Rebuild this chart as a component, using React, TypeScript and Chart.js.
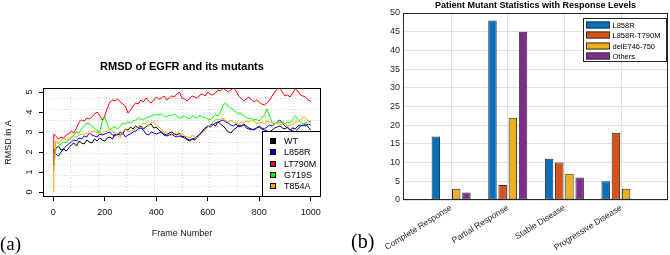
import React, { useEffect, useRef } from "react";
import { Chart, registerables } from "chart.js";

Chart.register(...registerables);

// ---------- Panel (a): RMSD of EGFR and its mutants ----------
const FRAMES = [
  0, 2, 10, 20, 30, 40, 50, 60, 70, 80, 90, 100,
  110, 120, 130, 140, 150, 160, 170, 180, 190, 200,
  210, 220, 230, 240, 250, 260, 270, 280, 290, 300,
  310, 320, 330, 340, 350, 360, 370, 380, 390, 400,
  410, 420, 430, 440, 450, 460, 470, 480, 490, 500,
  510, 520, 530, 540, 550, 560, 570, 580, 590, 600,
  610, 620, 630, 640, 650, 660, 670, 680, 690, 700,
  710, 720, 730, 740, 750, 760, 770, 780, 790, 800,
  810, 820, 830, 840, 850, 860, 870, 880, 890, 900,
  910, 920, 930, 940, 950, 960, 970, 980, 990, 1000,
];

const WT = [
  2.0, 2.05,
  2.2, 2.3, 2.1, 2.15, 2.05, 2.2, 2.35, 2.45, 2.3, 2.55,
  2.45, 2.4, 2.6, 2.5, 2.45, 2.65, 2.55, 2.7, 2.6, 2.55,
  2.7, 2.75, 2.65, 2.9, 2.85, 3.0, 2.9, 3.15, 3.1, 3.25,
  3.15, 3.3, 3.2, 3.3, 3.15, 3.25, 3.35, 3.4, 3.2, 3.25,
  3.1, 3.0, 2.9, 2.85, 2.95, 3.0, 2.9, 2.85, 2.95, 2.75,
  2.8, 2.6, 2.55, 2.65, 2.6, 2.75, 2.9, 3.05, 3.2, 3.25,
  3.35, 3.4, 3.3, 3.5, 3.4, 3.3, 3.15, 3.0, 2.95, 3.1,
  3.2, 3.35, 3.3, 3.4, 3.3, 3.2, 3.15, 3.1, 3.2, 3.25,
  3.15, 3.1, 3.05, 3.0, 3.1, 3.2, 3.25, 3.3, 3.2, 3.15,
  3.25, 3.1, 3.2, 3.15, 3.3, 3.35, 3.3, 3.4, 3.25, 3.1,
];

const L858R = [
  2.0, 2.0,
  1.9, 1.8, 2.0, 2.15, 2.3, 2.4, 2.5, 2.6, 2.55, 2.7,
  2.65, 2.8, 2.75, 2.95, 2.85, 2.8, 2.75, 2.9, 2.85, 2.9,
  2.95, 3.0, 2.85, 2.8, 2.9, 2.85, 2.95, 2.75, 2.85, 2.9,
  3.0, 3.05, 3.15, 3.2, 3.1, 2.9, 2.85, 3.0, 2.95, 2.9,
  2.95, 3.0, 2.85, 2.8, 2.85, 2.9, 2.8, 2.75, 2.8, 2.75,
  2.7, 2.65, 2.6, 2.65, 2.7, 2.8, 2.9, 3.05, 3.2, 3.3,
  3.25, 3.35, 3.45, 3.5, 3.55, 3.6, 3.5, 3.45, 3.35, 3.3,
  3.4, 3.25, 3.3, 3.35, 3.2, 3.15, 3.1, 3.15, 3.2, 3.3,
  3.2, 3.15, 3.25, 3.35, 3.3, 3.4, 3.5, 3.6, 3.45, 3.3,
  3.2, 3.1, 3.05, 3.0, 3.15, 3.3, 3.35, 3.3, 3.4, 3.35,
];

const LT790M = [
  1.25, 2.9,
  2.8, 2.65, 2.75, 2.7, 2.85, 2.9, 3.05, 2.95, 3.2, 3.5,
  3.6, 3.55, 3.7, 3.65, 3.75, 3.9, 4.0, 3.85, 3.6, 3.8,
  4.2, 4.5, 4.6, 4.55, 4.65, 4.5, 4.4, 4.3, 3.95, 4.1,
  4.3, 4.45, 4.4, 4.6, 4.5, 4.7, 4.55, 4.45, 4.6, 4.75,
  4.65, 4.7, 4.8, 4.6, 4.7, 4.8, 4.75, 4.9, 5.0, 4.7,
  4.65, 4.55, 4.7, 4.8, 4.75, 4.7, 4.85, 4.9, 4.8, 5.0,
  4.9, 4.85, 4.95, 5.1, 5.05, 5.2, 5.1, 5.0, 5.1, 5.2,
  5.05, 4.8, 4.7, 4.55, 4.65, 4.75, 4.6, 4.5, 4.6, 4.5,
  4.4, 4.35, 4.45, 4.6, 4.8, 5.0, 5.15, 5.2, 5.0, 4.8,
  4.85, 4.75, 4.95, 5.15, 5.05, 4.85, 4.8, 4.75, 4.6, 4.55,
];

const G719S = [
  1.0, 1.3,
  2.15, 2.3, 2.4, 2.5, 2.45, 2.65, 2.7, 2.85, 3.0, 2.95,
  3.15, 3.3, 3.45, 3.4, 3.3, 3.2, 3.05, 3.0, 3.5, 3.75,
  3.4, 3.1, 3.2, 3.25, 3.15, 3.3, 3.45, 3.4, 3.5, 3.45,
  3.55, 3.6, 3.7, 3.65, 3.6, 3.7, 3.75, 3.8, 3.85, 3.9,
  3.85, 3.9, 3.8, 3.75, 3.85, 3.8, 3.9, 3.8, 3.7, 3.75,
  3.8, 3.7, 3.65, 3.8, 3.75, 3.7, 3.85, 3.75, 3.7, 3.65,
  3.6, 3.75, 3.85, 3.8, 4.0, 4.35, 4.45, 4.25, 4.2, 4.1,
  4.0, 3.9, 3.95, 3.8, 3.75, 3.65, 3.7, 3.6, 3.65, 3.55,
  3.7, 3.85, 4.15, 3.8, 3.5, 3.4, 3.5, 3.45, 3.55, 3.4,
  3.5, 3.45, 3.6, 3.8, 3.65, 3.5, 3.4, 3.45, 3.5, 3.55,
];

const T854A = [
  0, 1.0,
  2.55, 2.4, 2.6, 2.7, 2.6, 2.65, 2.75, 2.8, 2.75, 2.85,
  2.9, 2.85, 2.95, 2.9, 3.0, 3.05, 2.95, 3.0, 2.9, 3.0,
  3.05, 3.15, 3.0, 2.95, 2.8, 2.7, 3.0, 3.15, 3.05, 3.0,
  3.1, 3.15, 3.3, 3.35, 3.45, 3.4, 3.3, 3.45, 3.5, 3.35,
  3.25, 3.15, 3.0, 2.95, 2.85, 2.8, 2.9, 2.95, 2.85, 2.9,
  2.8, 2.75, 2.7, 2.85, 2.75, 2.7, 2.85, 2.95, 3.1, 3.25,
  3.35, 3.5, 3.6, 3.65, 3.6, 3.7, 3.55, 3.5, 3.6, 3.5,
  3.45, 3.4, 3.5, 3.45, 3.55, 3.5, 3.6, 3.55, 3.4, 3.45,
  3.5, 3.4, 3.55, 3.5, 3.45, 3.4, 3.45, 3.35, 3.4, 3.45,
  3.3, 3.35, 3.4, 3.5, 3.55, 3.6, 3.75, 3.7, 3.55, 3.45,
];

const SERIES_NAMES = ["WT", "L858R", "LT790M", "G719S", "T854A"];
const SERIES_VALUES = [WT, L858R, LT790M, G719S, T854A];
const SERIES_COLORS = ["#000000", "#0000FF", "#FF0000", "#00FF00", "#FFA500"];
const FRAME_TICKS = [0, 200, 400, 600, 800, 1000];
const RMSD_TICKS = [0, 1, 2, 3, 4, 5];
const GRID_STEPS = [1, 2, 3, 4, 5, 6, 7, 8, 9];

// ---------- Panel (b): Patient Mutant Statistics ----------
const RESPONSES = ["Complete Response", "Partial Response", "Stable Disease", "Progressive Disease"];
const MUTANTS = ["L858R", "L858R-T790M", "delE746-750", "Others"];
const L858R_COUNTS = [17, 48, 11, 5];
const T790M_COUNTS = [0, 4, 10, 18];
const DEL_COUNTS = [3, 22, 7, 3];
const OTHERS_COUNTS = [2, 45, 6, 0];
const MUTANT_COUNTS = [L858R_COUNTS, T790M_COUNTS, DEL_COUNTS, OTHERS_COUNTS];
const MUTANT_COLORS = ["#0072BD", "#D95319", "#EDB120", "#7E2F8E"];
const RESPONSE_TICKS = [0, 1, 2, 3];

const SANS = "'Liberation Sans', Arial, Helvetica, sans-serif";

const frameBox = (color: string) => ({
  id: "frameBox",
  afterDatasetsDraw(chart: any) {
    const { ctx, chartArea: a } = chart;
    ctx.save();
    ctx.strokeStyle = color;
    ctx.lineWidth = 1;
    const l = Math.round(a.left) + 0.5;
    const t = Math.round(a.top) + 0.5;
    const r = Math.round(a.right) - 0.5;
    const b = Math.round(a.bottom) - 0.5;
    ctx.strokeRect(l, t, r - l, b - t);
    ctx.restore();
  },
});

const rLegend = {
  id: "rLegend",
  afterDatasetsDraw(chart: any) {
    const { ctx, chartArea: a } = chart;
    const w = 59;
    const h = 66;
    const x0 = Math.round(a.right) - w;
    const y0 = Math.round(a.bottom) - h;
    ctx.save();
    ctx.fillStyle = "#fff";
    ctx.fillRect(x0, y0, w, h);
    ctx.strokeStyle = "#000";
    ctx.lineWidth = 1;
    ctx.strokeRect(x0 + 0.5, y0 + 0.5, w - 1, h - 1);
    ctx.font = `9px ${SANS}`;
    ctx.textBaseline = "middle";
    chart.data.datasets.forEach((ds: any, i: number) => {
      const cy = Math.round(y0 + 10 + i * 11.3);
      ctx.fillStyle = ds.borderColor;
      ctx.fillRect(x0 + 8, cy - 3, 6, 6);
      ctx.strokeStyle = "#000";
      ctx.strokeRect(x0 + 8.5, cy - 2.5, 5, 5);
      ctx.fillStyle = "#000";
      ctx.fillText(ds.label, x0 + 22, cy + 0.5);
    });
    ctx.restore();
  },
};

const mLegend = {
  id: "mLegend",
  afterDatasetsDraw(chart: any) {
    const { ctx, chartArea: a } = chart;
    const w = 84;
    const h = 44;
    const x0 = Math.round(a.right) - 1 - w;
    const y0 = Math.round(a.top) + 5;
    ctx.save();
    ctx.fillStyle = "#fff";
    ctx.fillRect(x0, y0, w, h);
    ctx.strokeStyle = "#262626";
    ctx.lineWidth = 1;
    ctx.strokeRect(x0 + 0.5, y0 + 0.5, w - 1, h - 1);
    ctx.font = `7.5px ${SANS}`;
    ctx.textBaseline = "middle";
    chart.data.datasets.forEach((ds: any, i: number) => {
      const cy = Math.round(y0 + 7 + i * 10.3);
      ctx.fillStyle = ds.backgroundColor;
      ctx.fillRect(x0 + 3, cy - 3.5, 24, 7);
      ctx.strokeStyle = "#333";
      ctx.strokeRect(x0 + 3.5, cy - 3, 23, 6);
      ctx.fillStyle = "#000";
      ctx.fillText(ds.label, x0 + 29.5, cy + 0.5);
    });
    ctx.restore();
  },
};

function gridAxis(position: string, min: number, max: number) {
  const horizontal = position === "bottom";
  return {
    type: "linear",
    position,
    min,
    max,
    afterBuildTicks: (s: any) => {
      s.ticks = GRID_STEPS.map((k) => ({ value: s.min + ((s.max - s.min) * k) / 10 }));
    },
    afterFit: (s: any) => {
      if (horizontal) s.height = 0;
      else s.width = 0;
    },
    ticks: { display: false },
    grid: { color: "#cfcfcf", lineWidth: 1, drawTicks: false },
    border: { display: false, dash: [1, 2] },
  };
}

export default function App() {
  const leftRef = useRef<HTMLCanvasElement>(null);
  const rightRef = useRef<HTMLCanvasElement>(null);

  useEffect(() => {
    const left = new Chart(leftRef.current as HTMLCanvasElement, {
      type: "line",
      data: {
        datasets: SERIES_VALUES.map((vals, i) => ({
          label: SERIES_NAMES[i],
          data: FRAMES.map((f, j) => ({ x: f, y: vals[j] })),
          borderColor: SERIES_COLORS[i],
          backgroundColor: SERIES_COLORS[i],
          borderWidth: 1,
          pointRadius: 0,
          tension: 0,
          fill: false,
          order: SERIES_NAMES.length - i,
        })),
      },
      options: {
        responsive: false,
        animation: false,
        devicePixelRatio: 1,
        layout: { padding: { left: 0, right: 14, top: 0, bottom: 0 } },
        plugins: {
          legend: { display: false },
          tooltip: { enabled: false },
          title: {
            display: true,
            text: "RMSD of EGFR and its mutants",
            fullSize: false,
            color: "#000",
            font: { family: SANS, size: 11, weight: "bold" },
            padding: { top: 60, bottom: 14.8 },
          },
        },
        scales: {
          x: {
            type: "linear",
            position: "bottom",
            min: -40,
            max: 1040,
            afterBuildTicks: (s: any) => {
              s.ticks = FRAME_TICKS.map((v) => ({ value: v }));
            },
            afterFit: (s: any) => {
              s.height = 58;
            },
            ticks: {
              autoSkip: false,
              maxRotation: 0,
              color: "#111",
              padding: 6.6,
              font: { family: SANS, size: 9 },
              callback: (v: any) => String(v),
            },
            grid: {
              drawOnChartArea: false,
              drawTicks: true,
              tickLength: 4,
              color: "#000",
              tickColor: "#000",
            },
            border: { display: false },
            title: {
              display: true,
              text: "Frame Number",
              color: "#111",
              font: { family: SANS, size: 9 },
              padding: { top: 0, bottom: 15.6 },
            },
          },
          y: {
            type: "linear",
            position: "left",
            min: -0.25,
            max: 5.2,
            afterBuildTicks: (s: any) => {
              s.ticks = RMSD_TICKS.map((v) => ({ value: v }));
            },
            afterFit: (s: any) => {
              s.width = 43;
            },
            ticks: {
              minRotation: 90,
              maxRotation: 90,
              crossAlign: "center",
              color: "#111",
              padding: 7,
              font: { family: SANS, size: 9 },
              callback: (v: any) => String(v),
            },
            grid: {
              drawOnChartArea: false,
              drawTicks: true,
              tickLength: 4,
              color: "#000",
              tickColor: "#000",
            },
            border: { display: false },
            title: {
              display: true,
              text: "RMSD in A",
              color: "#111",
              font: { family: SANS, size: 9 },
              padding: { top: 2.9, bottom: 0 },
            },
          },
          xg: gridAxis("bottom", -40, 1040),
          yg: gridAxis("left", -0.25, 5.2),
        } as any,
      },
      plugins: [frameBox("#000"), rLegend],
    } as any);

    const right = new Chart(rightRef.current as HTMLCanvasElement, {
      type: "bar",
      data: {
        datasets: MUTANT_COUNTS.map((vals, i) => ({
          label: MUTANTS[i],
          data: vals.map((v, j) => ({ x: RESPONSE_TICKS[j], y: v })),
          backgroundColor: MUTANT_COLORS[i],
          borderColor: "#2a2a2a",
          borderWidth: 1,
          borderSkipped: false,
          categoryPercentage: 0.72,
          barPercentage: 0.83,
        })),
      },
      options: {
        responsive: false,
        animation: false,
        devicePixelRatio: 1,
        layout: { padding: { left: 0, right: 2, top: 0, bottom: 0 } },
        plugins: {
          legend: { display: false },
          tooltip: { enabled: false },
          title: {
            display: true,
            text: "Patient Mutant Statistics with Response Levels",
            fullSize: false,
            color: "#000",
            font: { family: SANS, size: 9, weight: "bold" },
            padding: { top: 0.6, bottom: 1.6 },
          },
        },
        scales: {
          x: {
            type: "linear",
            position: "bottom",
            min: -0.85,
            max: 3.83,
            offset: false,
            afterBuildTicks: (s: any) => {
              s.ticks = RESPONSE_TICKS.map((v) => ({ value: v }));
            },
            afterFit: (s: any) => {
              s.height = 55;
            },
            ticks: {
              autoSkip: false,
              minRotation: 32,
              maxRotation: 32,
              padding: 3,
              color: "#262626",
              font: { family: SANS, size: 8.5 },
              callback: (v: any) => RESPONSES[v] ?? "",
            },
            grid: { color: "#dedede", lineWidth: 1, drawTicks: false, offset: false },
            border: { display: false },
          },
          y: {
            type: "linear",
            position: "left",
            min: 0,
            max: 50,
            ticks: {
              stepSize: 5,
              padding: 3,
              color: "#262626",
              font: { family: SANS, size: 9 },
            },
            afterFit: (s: any) => {
              s.width = 68;
            },
            grid: { color: "#dedede", lineWidth: 1, drawTicks: false },
            border: { display: false },
          },
        } as any,
      },
      plugins: [frameBox("#262626"), mLegend],
    } as any);

    return () => {
      left.destroy();
      right.destroy();
    };
  }, []);

  return (
    <div
      style={{
        position: "fixed",
        left: 0,
        top: 0,
        width: 670,
        height: 255,
        background: "#fff",
        overflow: "hidden",
      }}
    >
      <canvas ref={leftRef} width={335} height={255} style={{ position: "absolute", left: 0, top: 0 }} />
      <canvas ref={rightRef} width={335} height={255} style={{ position: "absolute", left: 335, top: 0 }} />
      <span
        style={{
          position: "absolute",
          left: 0,
          top: 234,
          fontFamily: "'Liberation Serif', 'Times New Roman', serif",
          fontSize: 19,
          lineHeight: "19px",
          color: "#000",
        }}
      >
        (a)
      </span>
      <span
        style={{
          position: "absolute",
          left: 351,
          top: 231,
          fontFamily: "'Liberation Serif', 'Times New Roman', serif",
          fontSize: 20,
          lineHeight: "20px",
          color: "#000",
        }}
      >
        (b)
      </span>
    </div>
  );
}
